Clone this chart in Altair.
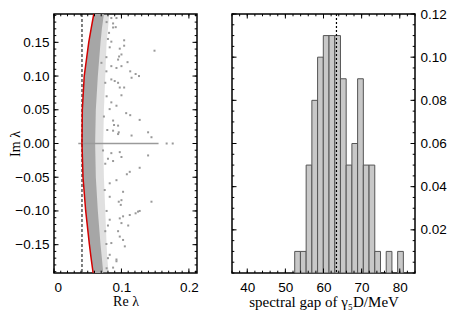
import altair as alt
import pandas as pd

# ---------------- data: left panel (eigenvalues) ----------------
band_y = [-0.192, -0.17, -0.15, -0.10, -0.05, 0.0, 0.05, 0.10, 0.15, 0.17, 0.192]
curve_x = [0.058, 0.055, 0.0525, 0.047, 0.043, 0.0415, 0.042, 0.0448, 0.0515, 0.055, 0.059]
core_right = [0.073, 0.071, 0.069, 0.065, 0.062, 0.061, 0.062, 0.065, 0.069, 0.071, 0.074]
fringe_right = [0.081, 0.079, 0.078, 0.076, 0.074, 0.073, 0.074, 0.076, 0.078, 0.080, 0.082]

out_x = [0.085, 0.0926, 0.0876, 0.0915, 0.0876, 0.0816, 0.104, 0.085, 0.104, 0.0826, 0.0975, 0.149,
         0.1, 0.0965, 0.0777, 0.095, 0.109, 0.0703, 0.1, 0.085, 0.0926, 0.113, 0.0777, 0.121, 0.126,
         0.115, 0.085, 0.09, 0.095, 0.104, 0.0975, 0.1, 0.085, 0.0926, 0.0825, 0.107, 0.113, 0.127,
         0.0876, 0.089, 0.095, 0.0876, 0.096, 0.1395, 0.095, 0.115, 0.1445, 0.167, 0.176,
         0.0727, 0.085, 0.0975, 0.1395, 0.1, 0.080, 0.0876, 0.127, 0.1123, 0.108, 0.0926, 0.0826,
         0.0752, 0.1024, 0.0826, 0.100, 0.1445, 0.096, 0.099, 0.127, 0.1246, 0.121, 0.1123, 0.1024,
         0.0975, 0.0826, 0.1, 0.080, 0.110, 0.095, 0.0975, 0.1024, 0.085, 0.0777, 0.105, 0.0826,
         0.0926, 0.0926, 0.0876,
         0.078, 0.080, 0.076, 0.078, 0.074, 0.079, 0.076, 0.078, 0.076, 0.080, 0.078]
out_y = [0.186, 0.186, 0.178, 0.1725, 0.172, 0.164, 0.153, 0.151, 0.145, 0.1426, 0.1406, 0.1376,
         0.132, 0.129, 0.128, 0.1244, 0.1206, 0.1196, 0.1147, 0.1147, 0.112, 0.107, 0.107, 0.103, 0.100,
         0.0975, 0.095, 0.0926, 0.090, 0.083, 0.083, 0.0715, 0.061, 0.056, 0.051, 0.045, 0.042, 0.035,
         0.034, 0.0274, 0.0265, 0.019, 0.0166, 0.0166, 0.014, 0.0118, 0.0093, 0.0, 0.0,
         -0.0103, -0.0143, -0.0128, -0.0177, -0.020, -0.0226, -0.026, -0.036, -0.042, -0.0456, -0.0544, -0.059,
         -0.069, -0.0716, -0.079, -0.084, -0.0863, -0.0863, -0.091, -0.1, -0.101, -0.1035, -0.106, -0.108,
         -0.111, -0.113, -0.118, -0.1216, -0.1216, -0.130, -0.138, -0.143, -0.1476, -0.149, -0.1525, -0.165,
         -0.172, -0.1746, -0.184,
         0.18, 0.155, 0.09, 0.07, 0.04, 0.02, -0.03, -0.1, -0.13, -0.17, -0.185]

row_start, row_end = 0.036, 0.155   # real eigenvalues on the Im = 0 axis
dashed_left = 0.0415

# ---------------- data: right panel (histogram) ----------------
bin_left = [52.45, 53.95, 55.45, 56.95, 58.45, 59.95, 61.45, 62.95, 64.45, 65.95, 67.45, 68.95,
            70.45, 71.95, 73.45, 76.45, 79.45]
bin_width = 1.5
freq = [0.01, 0.01, 0.05, 0.08, 0.10, 0.11, 0.11, 0.11, 0.09, 0.05, 0.06, 0.09,
        0.05, 0.05, 0.01, 0.01, 0.01]
dashed_right = 63.4

# ---------------- axis ticks ----------------
lx_major = [0, 0.1, 0.2]
lx_minor = [round(i * 0.01, 2) for i in range(0, 22)]
ly_major = [-0.15, -0.10, -0.05, 0.0, 0.05, 0.10, 0.15]
ly_minor = [round(i * 0.01, 2) for i in range(-19, 20)]
rx_major = [40, 50, 60, 70, 80]
rx_minor = list(range(36, 85, 2))
ry_major = [0.02, 0.04, 0.06, 0.08, 0.10, 0.12]
ry_minor = [round(i * 0.005, 3) for i in range(0, 25)]

H = 259
W1 = 143
W2 = 183
MAJ, MIN = 4.5, 2.3

LABEL_FONT = "Liberation Sans"
TITLE_FONT = "Liberation Serif"

xs1 = alt.Scale(domain=[0, 0.212], nice=False, zero=False)
ys1 = alt.Scale(domain=[-0.192, 0.192], nice=False, zero=False)
ax1 = alt.Axis(title="Re λ", values=lx_major, format=".1~f", labelPadding=7, titlePadding=1)
ay1 = alt.Axis(title="Im λ", values=ly_major, format=".2f", labelPadding=5, titlePadding=-8)

xs2 = alt.Scale(domain=[36, 84], nice=False, zero=False)
ys2 = alt.Scale(domain=[0, 0.12], nice=False)
ax2 = alt.Axis(title="spectral gap of γ₅D/MeV", values=rx_major, labelPadding=7, titlePadding=1,
               titleFontSize=15)
ay2 = alt.Axis(title=None, orient="right", values=ry_major, format=".2f", labelPadding=5)


def tick_layers(xvals, yvals, xs, ys, axx, axy, length, W):
    out = []
    dx = pd.DataFrame({"v": xvals})
    dy = pd.DataFrame({"v": yvals})
    bx = alt.Chart(dx).mark_rule(color="black", strokeWidth=1)
    by = alt.Chart(dy).mark_rule(color="black", strokeWidth=1)
    out.append(bx.encode(x=alt.X("v:Q", scale=xs, axis=axx), y=alt.value(H), y2=alt.value(H - length)))
    out.append(bx.encode(x=alt.X("v:Q", scale=xs, axis=axx), y=alt.value(0), y2=alt.value(length)))
    out.append(by.encode(y=alt.Y("v:Q", scale=ys, axis=axy), x=alt.value(0), x2=alt.value(length)))
    out.append(by.encode(y=alt.Y("v:Q", scale=ys, axis=axy), x=alt.value(W), x2=alt.value(W - length)))
    return out


# ---------------- left panel ----------------
band = pd.DataFrame({"y": band_y, "xl": curve_x, "xc": core_right, "xf": fringe_right})
pts = pd.DataFrame({"x": out_x, "y": out_y})
row = pd.DataFrame({"x": [row_start], "x2": [row_end], "y": [0.0]})

points = alt.Chart(pts).mark_square(size=4, color="#999999", opacity=1).encode(
    x=alt.X("x:Q", scale=xs1, axis=ax1),
    y=alt.Y("y:Q", scale=ys1, axis=ay1),
)
fringe = alt.Chart(band).mark_area(orient="horizontal", color="#999999", opacity=0.3).encode(
    y=alt.Y("y:Q", scale=ys1, axis=ay1), x=alt.X("xl:Q", scale=xs1, axis=ax1), x2="xf:Q")
core = alt.Chart(band).mark_area(orient="horizontal", color="#a6a6a6", opacity=1).encode(
    y=alt.Y("y:Q", scale=ys1, axis=ay1), x=alt.X("xl:Q", scale=xs1, axis=ax1), x2="xc:Q")
rowline = alt.Chart(row).mark_rule(color="#9a9a9a", strokeWidth=1.5).encode(
    x=alt.X("x:Q", scale=xs1, axis=ax1), x2="x2:Q", y=alt.Y("y:Q", scale=ys1, axis=ay1))
dash1 = alt.Chart(pd.DataFrame({"x": [dashed_left]})).mark_rule(
    color="black", strokeWidth=1, strokeDash=[3, 2]).encode(x=alt.X("x:Q", scale=xs1, axis=ax1))
red = alt.Chart(band).mark_line(color="#d40000", strokeWidth=1.5).encode(
    x=alt.X("xl:Q", scale=xs1, axis=ax1), y=alt.Y("y:Q", scale=ys1, axis=ay1), order="y:Q")

left = alt.layer(
    points, fringe, core, rowline, dash1, red,
    *tick_layers(lx_major, ly_major, xs1, ys1, ax1, ay1, MAJ, W1),
    *tick_layers(lx_minor, ly_minor, xs1, ys1, ax1, ay1, MIN, W1),
).properties(width=W1, height=H)

# ---------------- right panel ----------------
hist = pd.DataFrame({"left": bin_left, "freq": freq})
hist["right"] = hist["left"] + bin_width

bars = alt.Chart(hist).mark_bar(fill="#c8c8c8", stroke="#555555", strokeWidth=1).encode(
    x=alt.X("left:Q", scale=xs2, axis=ax2),
    x2="right:Q",
    y=alt.Y("freq:Q", scale=ys2, axis=ay2),
    y2=alt.datum(0),
)
dash2 = alt.Chart(pd.DataFrame({"x": [dashed_right]})).mark_rule(
    color="black", strokeWidth=1.2, strokeDash=[2, 2]).encode(x=alt.X("x:Q", scale=xs2, axis=ax2))

right = alt.layer(
    bars, dash2,
    *tick_layers(rx_major, ry_major, xs2, ys2, ax2, ay2, MAJ, W2),
    *tick_layers(rx_minor, ry_minor, xs2, ys2, ax2, ay2, MIN, W2),
).properties(width=W2, height=H)

chart = alt.hconcat(left, right, spacing=30).properties(
    padding={"left": 0, "top": -2, "right": 0, "bottom": 0}
).configure_view(stroke="black", strokeWidth=1.5).configure_axis(
    ticks=False, domain=False, grid=False,
    labelFont=LABEL_FONT, labelFontSize=13.5, labelColor="black",
    titleFont=TITLE_FONT, titleFontSize=14, titleFontWeight="normal", titleColor="black",
)

chart.save("out.html", embed_options={"renderer": "svg", "actions": False})
